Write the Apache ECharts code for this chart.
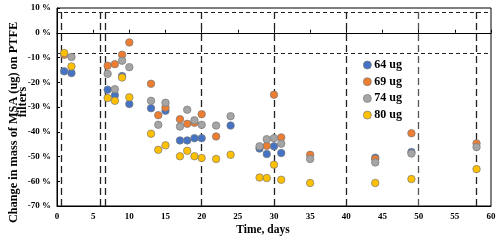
<!DOCTYPE html>
<html>
<head>
<meta charset="utf-8">
<script src="https://cdn.jsdelivr.net/npm/echarts@6/dist/echarts.min.js"></script>
<style>html,body{margin:0;padding:0;background:#fff}#c{width:500px;height:241px}</style>
</head>
<body>
<div id="c"></div>
<script>
const seriesNames = ['64 ug', '69 ug', '74 ug', '80 ug'];
const colors = ['#4472C4', '#ED7D31', '#A5A5A5', '#FFC000'];

const days64 = [1, 2, 7, 8, 9, 10, 13, 15, 17, 18, 19, 20, 24, 28, 29, 30, 31, 44, 49];
const vals64 = [-15.6, -16.3, -23.0, -25.3, -17.5, -28.8, -30.5, -31.5, -43.5, -43.5, -42.6, -42.6, -37.5, -46.8, -49.0, -45.9, -48.6, -50.5, -48.2];

const days69 = [1, 7, 8, 9, 10, 13, 14, 15, 17, 18, 19, 20, 22, 29, 30, 31, 35, 44, 49, 58];
const vals69 = [-8.9, -13.3, -12.7, -8.9, -3.9, -20.6, -33.3, -30.2, -34.9, -36.8, -36.4, -32.9, -41.9, -45.7, -25.0, -42.3, -49.3, -51.0, -40.6, -44.7];

const days74 = [2, 7, 8, 9, 10, 13, 14, 15, 17, 18, 19, 20, 22, 24, 28, 29, 30, 31, 35, 44, 49, 58];
const vals74 = [-9.8, -16.6, -22.8, -11.3, -13.9, -27.5, -37.2, -28.3, -37.9, -31.1, -35.4, -37.2, -37.5, -33.7, -45.9, -43.0, -42.6, -44.8, -51.0, -52.4, -48.8, -46.2];

const days80 = [1, 2, 7, 8, 9, 10, 13, 14, 15, 17, 18, 19, 20, 22, 24, 28, 29, 30, 31, 35, 44, 49, 58];
const vals80 = [-8.2, -13.6, -26.4, -27.5, -18.1, -26.1, -40.8, -47.3, -45.5, -49.9, -47.7, -49.9, -50.6, -51.0, -49.3, -58.5, -58.7, -53.3, -59.4, -60.7, -60.7, -59.1, -55.1];

const vLines = [0.6, 6, 6.7, 20, 30, 40, 50, 58];
const hLines = [8.3, -8.3];

const xTitle = 'Time, days';
const yTitle1 = 'Change in mass of MSA (ug) on PTFE';
const yTitle2 = 'filters';

const FONT = '"Liberation Serif", "Times New Roman", serif';

const allDays = [days64, days69, days74, days80];
const allVals = [vals64, vals69, vals74, vals80];

const scatterSeries = seriesNames.map((n, i) => ({
  name: n,
  type: 'scatter',
  xAxisIndex: 0,
  symbol: 'circle',
  symbolSize: 7.5,
  z: 5 + i,
  itemStyle: { color: colors[i], borderColor: '#7a7a7a', borderWidth: 0.7, opacity: 1 },
  data: allDays[i].map((d, k) => [d, allVals[i][k]])
}));

const guideSeries = {
  name: 'guides',
  type: 'scatter',
  xAxisIndex: 0,
  data: [],
  z: 2,
  silent: true,
  markLine: {
    silent: true,
    symbol: 'none',
    label: { show: false },
    animation: false,
    data: vLines.map(v => ({ xAxis: v, lineStyle: { color: v === 50 ? '#555' : '#222', width: 1.3, type: [7, 4] } }))
      .concat(hLines.map(v => ({ yAxis: v, lineStyle: { color: '#222', width: 1, type: [4, 3] } })))
  }
};

const chart = echarts.init(document.getElementById('c'), null, { renderer: 'canvas' });
chart.setOption({
  animation: false,
  backgroundColor: '#fff',
  grid: { left: 57, right: 9, top: 8, bottom: 35, show: true, borderColor: '#000', borderWidth: 1 },
  xAxis: [
    {
      type: 'value', min: 0, max: 60, interval: 5,
      axisLine: { show: true, onZero: false, lineStyle: { color: '#000', width: 1 } },
      axisTick: { show: false },
      splitLine: { show: false },
      axisLabel: { color: '#000', fontFamily: FONT, fontWeight: 'bold', fontSize: 9, margin: 6 }
    },
    {
      type: 'value', min: 0, max: 60, interval: 5, position: 'bottom',
      axisLine: { show: true, onZero: true, lineStyle: { color: '#000', width: 1.2 } },
      axisTick: { show: true, inside: true, length: 3, lineStyle: { color: '#000' } },
      splitLine: { show: false },
      axisLabel: { show: false }
    }
  ],
  yAxis: {
    type: 'value', min: -70, max: 10, interval: 10,
    axisLine: { show: true, onZero: false, lineStyle: { color: '#000', width: 1 } },
    axisTick: { show: true, inside: true, length: 3, lineStyle: { color: '#000' } },
    splitLine: { show: false },
    axisLabel: { color: '#000', fontFamily: FONT, fontWeight: 'bold', fontSize: 9, margin: 6, formatter: '{value} %' }
  },
  legend: {
    data: seriesNames,
    orient: 'vertical',
    left: 363,
    top: 59,
    itemWidth: 8,
    itemHeight: 8,
    itemGap: 4.7,
    padding: 0,
    icon: 'circle',
    itemStyle: { borderColor: '#7a7a7a', borderWidth: 0.7 },
    textStyle: { color: '#000', fontFamily: FONT, fontWeight: 'bold', fontSize: 12, lineHeight: 12, padding: [0, 0, 0, -2] }
  },
  graphic: [
    { type: 'text', x: 263, y: 230, style: { text: xTitle, font: 'bold 11.5px ' + FONT, fill: '#000', align: 'center', verticalAlign: 'middle' } },
    { type: 'text', x: 13.5, y: 122.5, rotation: Math.PI / 2, style: { text: yTitle1, font: 'bold 12.3px ' + FONT, fill: '#000', align: 'center', verticalAlign: 'middle' } },
    { type: 'text', x: 23, y: 102, rotation: Math.PI / 2, style: { text: yTitle2, font: 'bold 12.3px ' + FONT, fill: '#000', align: 'center', verticalAlign: 'middle' } }
  ],
  series: [guideSeries].concat(scatterSeries)
});
</script>
</body>
</html>
